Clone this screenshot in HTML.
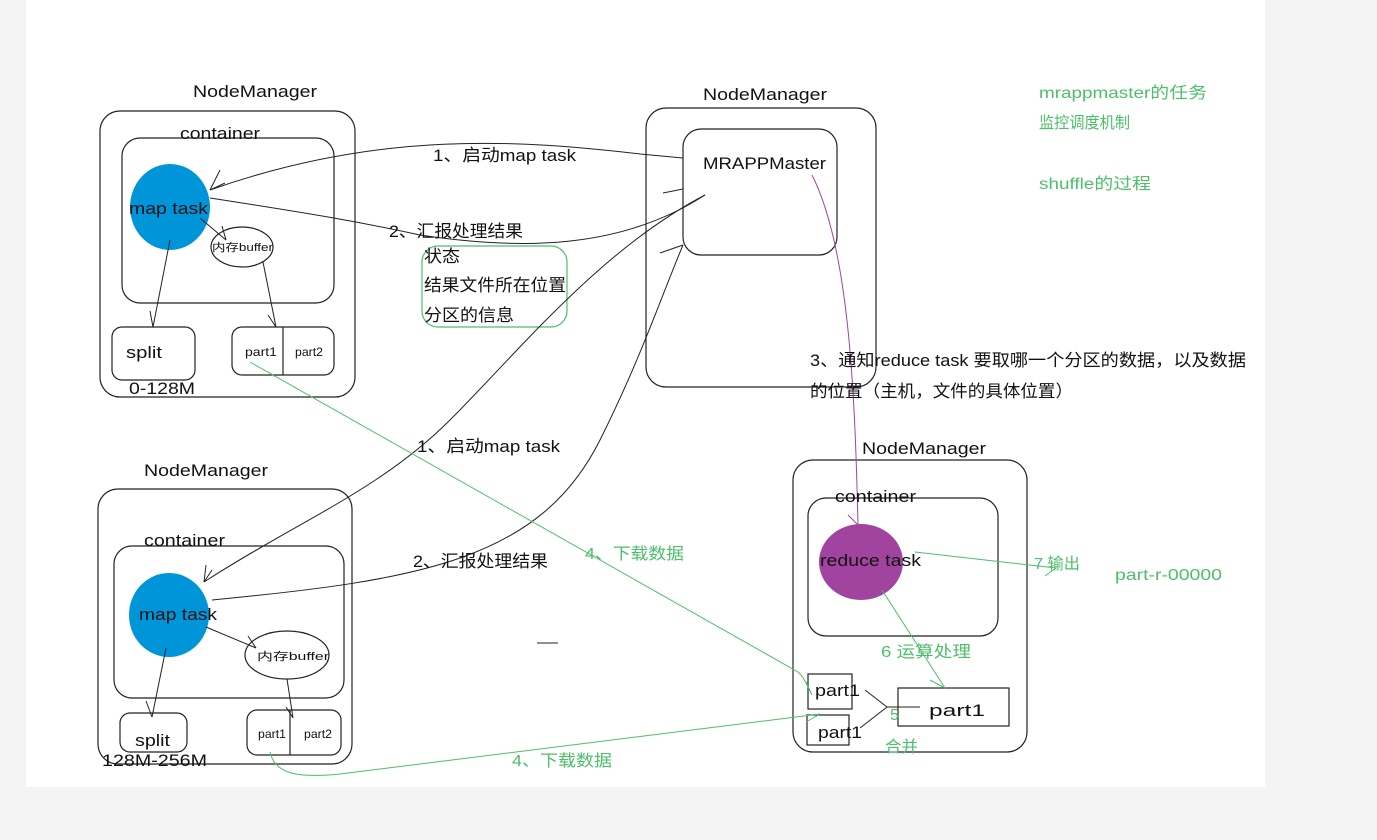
<!DOCTYPE html>
<html><head><meta charset="utf-8"><style>
html,body{margin:0;padding:0;background:#f4f4f4;}
svg{display:block;}
text{font-family:"Liberation Sans","Noto Sans CJK SC",sans-serif;}
</style></head><body>
<svg width="1377" height="840" viewBox="0 0 1377 840" xmlns="http://www.w3.org/2000/svg">
<rect x="0" y="0" width="1377" height="840" fill="#f4f4f4"/>
<rect x="26" y="0" width="1239" height="787" fill="#fff"/>
<g fill="none" stroke="#222" stroke-width="1.2">
<rect x="100" y="111" width="255" height="286" rx="20"/>
<rect x="122" y="138" width="212" height="165" rx="18"/>
<rect x="112" y="327" width="83" height="53" rx="10"/>
<rect x="232" y="327" width="102" height="48" rx="10"/>
<line x1="283" y1="327" x2="283" y2="375"/>
<ellipse cx="242" cy="247" rx="31" ry="20"/>
<rect x="646" y="108" width="230" height="279" rx="20"/>
<rect x="683" y="129" width="154" height="126" rx="18"/>
<rect x="98" y="489" width="254" height="275" rx="20"/>
<rect x="114" y="546" width="230" height="152" rx="18"/>
<rect x="120" y="713" width="67" height="39" rx="10"/>
<rect x="247" y="710" width="94" height="45" rx="10"/>
<line x1="290" y1="710" x2="290" y2="755"/>
<ellipse cx="287" cy="655" rx="42" ry="24"/>
<rect x="793" y="460" width="234" height="292" rx="20"/>
<rect x="808" y="498" width="190" height="138" rx="18"/>
<rect x="808" y="674" width="44" height="35"/>
<rect x="807" y="715" width="42" height="30"/>
<rect x="898" y="688" width="111" height="38"/>
</g>
<rect x="422" y="246" width="145" height="81" rx="16" fill="none" stroke="#4cbf6a" stroke-width="1.2"/>
<ellipse cx="170" cy="207" rx="40" ry="43" fill="#0095d9"/>
<ellipse cx="169" cy="615" rx="40" ry="42" fill="#0095d9"/>
<ellipse cx="861" cy="562" rx="42" ry="38" fill="#a0449f"/>
<g fill="none" stroke="#222" stroke-width="1">
<path d="M683,158 L640,154 C520,140 380,130 210,190"/>
<path d="M210,190 L220,170 M210,190 L225,183"/>
<path d="M210,198 C320,215 360,222 420,235 C520,250 620,250 705,195"/>
<path d="M705,195 C600,250 520,350 450,420 C380,490 300,520 204,582"/>
<path d="M204,582 L206,565 M204,582 L212,570"/>
<path d="M663,193 L683,189"/>
<path d="M212,600 C420,580 540,560 600,440 C640,360 660,300 683,245"/>
<path d="M660,253 L683,245"/>
<path d="M170,240 L153,327 M153,327 L150,311"/>
<path d="M200,218 L226,240 M226,240 L222,226"/>
<path d="M263,262 L276,327 M276,327 L268,315"/>
<path d="M166,648 L152,717 M152,717 L146,701"/>
<path d="M206,627 L256,648 M256,648 L248,636"/>
<path d="M287,679 L293,718 M293,718 L286,707"/>
<path d="M865,690 L887,707 L860,728 M887,707 L920,707"/>
<path d="M537,643 L558,643"/>
</g>
<path d="M812,175 C850,250 855,400 858,525 M858,525 L848,515" fill="none" stroke="#a0449f" stroke-width="1"/>
<g fill="none" stroke="#4cbf6a" stroke-width="1">
<path d="M250,362 L798,672 C805,678 808,688 812,695 M812,695 L806,682"/>
<path d="M270,752 C275,775 300,778 340,774 L820,714 M820,714 L806,722"/>
<path d="M882,590 L945,688 M945,688 L930,680"/>
<path d="M915,552 L1056,568 L1045,576"/>
</g>
<g fill="#111" font-size="17">
<text x="193" y="97" textLength="124" lengthAdjust="spacingAndGlyphs">NodeManager</text>
<text x="180" y="139" textLength="80" lengthAdjust="spacingAndGlyphs">container</text>
<text x="129" y="214" textLength="79" lengthAdjust="spacingAndGlyphs">map task</text>
<text x="212" y="251" font-size="11" textLength="61" lengthAdjust="spacingAndGlyphs">内存buffer</text>
<text x="126" y="358" textLength="36" lengthAdjust="spacingAndGlyphs">split</text>
<text x="245" y="356" font-size="12" textLength="32" lengthAdjust="spacingAndGlyphs">part1</text>
<text x="295" y="356" font-size="12" textLength="28" lengthAdjust="spacingAndGlyphs">part2</text>
<text x="129" y="394" textLength="66" lengthAdjust="spacingAndGlyphs">0-128M</text>
<text x="433" y="161" textLength="143" lengthAdjust="spacingAndGlyphs">1、启动map task</text>
<text x="389" y="237" textLength="134" lengthAdjust="spacingAndGlyphs">2、汇报处理结果</text>
<text x="424" y="262" textLength="36" lengthAdjust="spacingAndGlyphs">状态</text>
<text x="424" y="291" textLength="142" lengthAdjust="spacingAndGlyphs">结果文件所在位置</text>
<text x="424" y="321" textLength="90" lengthAdjust="spacingAndGlyphs">分区的信息</text>
<text x="703" y="100" textLength="124" lengthAdjust="spacingAndGlyphs">NodeManager</text>
<text x="703" y="169" textLength="123" lengthAdjust="spacingAndGlyphs">MRAPPMaster</text>
<text x="810" y="366" textLength="436" lengthAdjust="spacingAndGlyphs">3、通知reduce task 要取哪一个分区的数据，以及数据</text>
<text x="810" y="397" textLength="263" lengthAdjust="spacingAndGlyphs">的位置（主机，文件的具体位置）</text>
<text x="144" y="476" textLength="124" lengthAdjust="spacingAndGlyphs">NodeManager</text>
<text x="144" y="546" textLength="81" lengthAdjust="spacingAndGlyphs">container</text>
<text x="139" y="620" textLength="78" lengthAdjust="spacingAndGlyphs">map task</text>
<text x="257" y="660" font-size="11" textLength="72" lengthAdjust="spacingAndGlyphs">内存buffer</text>
<text x="135" y="746" textLength="35" lengthAdjust="spacingAndGlyphs">split</text>
<text x="258" y="738" font-size="12" textLength="28" lengthAdjust="spacingAndGlyphs">part1</text>
<text x="304" y="738" font-size="12" textLength="28" lengthAdjust="spacingAndGlyphs">part2</text>
<text x="102" y="766" textLength="105" lengthAdjust="spacingAndGlyphs">128M-256M</text>
<text x="417" y="452" textLength="143" lengthAdjust="spacingAndGlyphs">1、启动map task</text>
<text x="413" y="567" textLength="135" lengthAdjust="spacingAndGlyphs">2、汇报处理结果</text>
<text x="862" y="454" textLength="124" lengthAdjust="spacingAndGlyphs">NodeManager</text>
<text x="835" y="502" textLength="81" lengthAdjust="spacingAndGlyphs">container</text>
<text x="820" y="566" textLength="101" lengthAdjust="spacingAndGlyphs">reduce task</text>
<text x="815" y="696" textLength="45" lengthAdjust="spacingAndGlyphs">part1</text>
<text x="818" y="738" textLength="44" lengthAdjust="spacingAndGlyphs">part1</text>
<text x="929" y="716" textLength="56" lengthAdjust="spacingAndGlyphs">part1</text>
</g>
<g fill="#4cbf6a" font-size="16">
<text x="1039" y="98" textLength="168" lengthAdjust="spacingAndGlyphs">mrappmaster的任务</text>
<text x="1039" y="128" textLength="91" lengthAdjust="spacingAndGlyphs">监控调度机制</text>
<text x="1039" y="189" textLength="112" lengthAdjust="spacingAndGlyphs">shuffle的过程</text>
<text x="585" y="559" textLength="99" lengthAdjust="spacingAndGlyphs">4、下载数据</text>
<text x="512" y="766" textLength="100" lengthAdjust="spacingAndGlyphs">4、下载数据</text>
<text x="881" y="657" textLength="90" lengthAdjust="spacingAndGlyphs">6 运算处理</text>
<text x="1034" y="569" textLength="46" lengthAdjust="spacingAndGlyphs">7 输出</text>
<text x="1115" y="580" textLength="107" lengthAdjust="spacingAndGlyphs">part-r-00000</text>
<text x="890" y="720">5</text>
<text x="885" y="752" textLength="33" lengthAdjust="spacingAndGlyphs">合并</text>
</g>
</svg>
</body></html>
